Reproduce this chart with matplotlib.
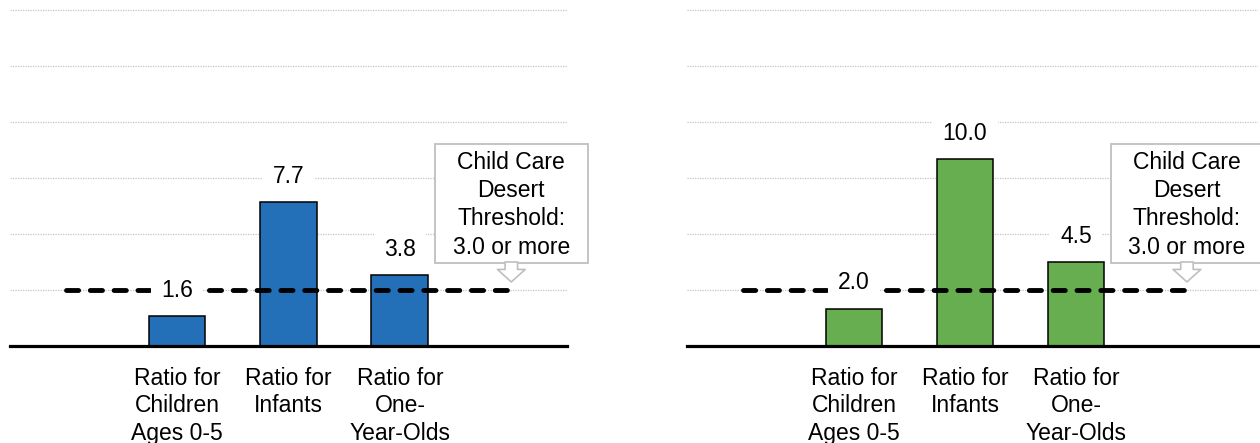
import matplotlib.pyplot as plt
from matplotlib.patches import Rectangle

plt.rcParams['font.family'] = ['Liberation Sans', 'DejaVu Sans']

categories = ['Ratio for\nChildren\nAges 0-5', 'Ratio for\nInfants', 'Ratio for\nOne-\nYear-Olds']
left_values = [1.6, 7.7, 3.8]
right_values = [2.0, 10.0, 4.5]
threshold = 3.0
callout_text = 'Child Care\nDesert\nThreshold:\n3.0 or more'
grid_ticks = [3, 6, 9, 12, 15, 18]

fig = plt.figure(figsize=(12.6, 4.43), dpi=100)
ax_left = fig.add_axes([0.0079, 0.219, 0.4421, 0.7797])
ax_right = fig.add_axes([0.5456, 0.219, 0.4528, 0.7797])


def draw_panel(ax, values, color, xmax):
    pos = [1, 2, 3]
    ax.set_xlim(-0.5, xmax)
    ax.set_ylim(0, 18.5)
    ax.set_yticks(grid_ticks)
    ax.yaxis.grid(True, color='#c4c4c4', linestyle=(0, (1, 1)), linewidth=0.9)
    ax.set_axisbelow(True)
    ax.bar(pos, values, width=0.51, color=color, edgecolor='black', linewidth=1.1, zorder=2)
    ax.plot([0, 4], [threshold, threshold], color='black', linewidth=3.5,
            dashes=(2.5, 2.4), dash_capstyle='round', zorder=3)
    for x, v in zip(pos, values):
        ax.annotate('{:.1f}'.format(v), (x, v), xytext=(0, 18.5), textcoords='offset points',
                    ha='center', va='center', fontsize=16.5, zorder=4,
                    bbox=dict(boxstyle='square,pad=0.45', fc='white', ec='none'))
    ax.set_xticks(pos)
    ax.set_xticklabels(categories, fontsize=16.5, linespacing=1.25)
    ax.tick_params(axis='x', length=0, pad=15)
    ax.tick_params(axis='y', length=0, labelleft=False)
    for s in ['top', 'right', 'left']:
        ax.spines[s].set_visible(False)
    ax.spines['bottom'].set_linewidth(2.3)
    ax.spines['bottom'].set_zorder(5)
    # callout box with hollow arrow pointing at the threshold line
    ax.add_patch(Rectangle((4 - 0.687, 4.45), 1.374, 6.37, fc='white', ec='#bfbfbf',
                           lw=1.3, zorder=5, clip_on=False))
    ax.annotate('', xy=(4, 3.43), xytext=(4, 4.5),
                arrowprops=dict(arrowstyle='simple,head_length=0.45,head_width=1.0,tail_width=0.45',
                                mutation_scale=20, fc='white', ec='#bfbfbf', lw=1.2,
                                shrinkA=0, shrinkB=0), zorder=6, annotation_clip=False)
    ax.text(4, 7.57, callout_text, ha='center', va='center', fontsize=16.5, zorder=7,
            multialignment='center', linespacing=1.3)


draw_panel(ax_left, left_values, '#2370b9', 4.5)
draw_panel(ax_right, right_values, '#67ae50', 4.64)

fig.savefig('out.png', dpi=100)
